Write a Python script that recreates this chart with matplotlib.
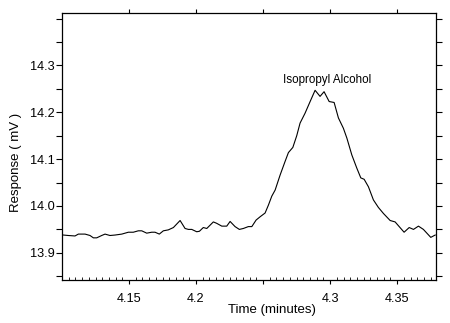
"""Chromatogram trace around the isopropyl alcohol peak."""

import matplotlib

matplotlib.use("Agg")
import matplotlib.pyplot as plt
from matplotlib.ticker import FixedLocator, FixedFormatter, MultipleLocator

plt.rcParams["font.family"] = ["Liberation Sans", "DejaVu Sans"]

# detector trace
time_min = [
    4.1010, 4.1047, 4.1097, 4.1122, 4.1172, 4.1209, 4.1234, 4.1259, 4.1296,
    4.1321, 4.1358, 4.1396, 4.1446, 4.1495, 4.1532, 4.1569, 4.1595, 4.1632,
    4.1669, 4.1694, 4.1726, 4.1756, 4.1793, 4.1831, 4.1881, 4.1918, 4.1943,
    4.1968, 4.2005, 4.2025, 4.2054, 4.2080, 4.2129, 4.2154, 4.2192, 4.2229,
    4.2254, 4.2291, 4.2323, 4.2353, 4.2390, 4.2416, 4.2448, 4.2478, 4.2515,
    4.2540, 4.2565, 4.2590, 4.2627, 4.2664, 4.2689, 4.2722, 4.2751, 4.2776,
    4.2813, 4.2851, 4.2888, 4.2925, 4.2955, 4.2993, 4.3030, 4.3062, 4.3099,
    4.3125, 4.3162, 4.3199, 4.3229, 4.3254, 4.3286, 4.3323, 4.3360, 4.3398,
    4.3448, 4.3485, 4.3552, 4.3590, 4.3622, 4.3659, 4.3696, 4.3751, 4.3784,
]
response_mv = [
    13.938, 13.937, 13.936, 13.940, 13.940, 13.937, 13.932, 13.932, 13.937,
    13.940, 13.937, 13.938, 13.940, 13.944, 13.944, 13.947, 13.947, 13.942,
    13.944, 13.944, 13.940, 13.947, 13.949, 13.954, 13.969, 13.952, 13.950,
    13.950, 13.945, 13.946, 13.954, 13.952, 13.966, 13.963, 13.957, 13.957,
    13.967, 13.956, 13.950, 13.952, 13.956, 13.956, 13.970, 13.977, 13.985,
    14.002, 14.021, 14.034, 14.066, 14.095, 14.114, 14.125, 14.150, 14.177,
    14.198, 14.223, 14.247, 14.234, 14.244, 14.223, 14.221, 14.188, 14.166,
    14.145, 14.109, 14.081, 14.060, 14.057, 14.041, 14.013, 13.997, 13.984,
    13.969, 13.966, 13.944, 13.954, 13.950, 13.957, 13.950, 13.933, 13.938,
]

x_ticks = [4.15, 4.2, 4.25, 4.3, 4.35]
x_tick_labels = ["4.15", "4.2", "", "4.3", "4.35"]
y_ticks = [13.9, 14.0, 14.1, 14.2, 14.3]
y_tick_labels = ["13.9", "14.0", "14.1", "14.2", "14.3"]

peak_name = "Isopropyl Alcohol"
peak_label_pos = (4.2978, 14.269)

fig = plt.figure(figsize=(4.5, 3.23), dpi=100)
ax = fig.add_axes([62 / 450, 43 / 323, 374 / 450, 267 / 323])

ax.plot(time_min, response_mv, color="black", linewidth=0.8)
ax.text(*peak_label_pos, peak_name, ha="center", va="center", fontsize=8.4)

ax.set_xlim(4.100, 4.379)
ax.set_ylim(13.842, 14.412)

ax.xaxis.set_major_locator(FixedLocator(x_ticks))
ax.xaxis.set_major_formatter(FixedFormatter(x_tick_labels))
ax.xaxis.set_minor_locator(MultipleLocator(0.005))
ax.yaxis.set_major_locator(FixedLocator(y_ticks))
ax.yaxis.set_major_formatter(FixedFormatter(y_tick_labels))
ax.yaxis.set_minor_locator(MultipleLocator(0.05))

ax.tick_params(axis="x", which="major", direction="out", length=3, width=0.8,
               labelsize=9.2, pad=6, top=True)
ax.tick_params(axis="x", which="minor", direction="in", length=2, width=0.6)
ax.tick_params(axis="y", which="both", direction="out", length=4, width=0.8,
               labelsize=9.2, pad=1.5, right=True)

for spine in ax.spines.values():
    spine.set_linewidth(0.9)

ax.set_xlabel("Time (minutes)", fontsize=9.5)
ax.set_ylabel("Response ( mV )", fontsize=9.5)
ax.xaxis.set_label_coords(0.561, -0.09)
ax.yaxis.set_label_coords(-0.107, 0.44)

fig.savefig("out.png", dpi=100)
